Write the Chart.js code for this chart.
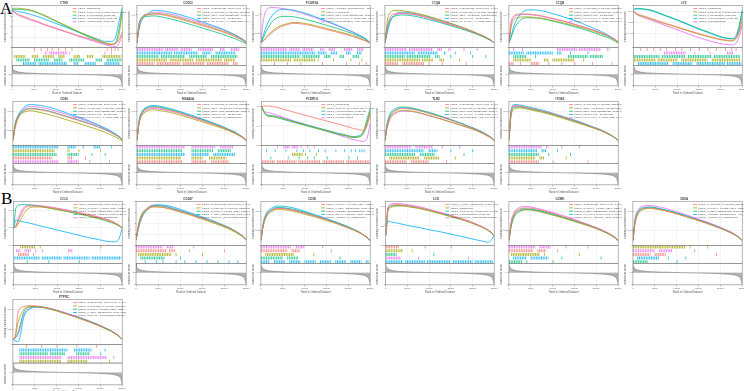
<!DOCTYPE html>
<html>
<head>
<meta charset="utf-8">
<script src="https://cdn.jsdelivr.net/npm/chart.js@4.4.0/dist/chart.umd.min.js"></script>
<style>
body{margin:0;background:#fff;width:744px;height:391px;overflow:hidden;position:relative}
.panel{position:absolute}
.tag{position:absolute;font-family:"Liberation Serif","DejaVu Serif",serif;font-size:17px;line-height:17px;color:#000}
</style>
</head>
<body>
<div class="tag" style="left:0;top:0">A</div>
<div class="tag" style="left:1px;top:190px">B</div>
<script>
//------------------------------- Data -------------------------------//
// ranks where the running enrichment score is read off the curves
const rankX = [0,500,1200,2500,4000,5500,7500,10000,12500,15000,17500,19500,21000,22500,23500,24300,25000];

// ranked list metric (same gene ranking in every panel)
const metricRank  = [0,100,300,700,1500,3000,6000,10000,15000,19000,22000,23500,24300,24700,24900,25000];
const metricValue = [1.15,0.85,0.6,0.42,0.28,0.17,0.08,0.02,-0.04,-0.1,-0.2,-0.32,-0.5,-0.8,-1.2,-1.55];

const titles = ['CTSS','CD163','FCGR3A','C1QA','C1QB','LYZ',
                'CD86','MS4A6A','FCER1G','TLR2','ITGB2',
                'CCL5','CD247','CD3E','LCK','GZMK','CD8A',
                'PTPRC'];

const pathways = [
  'KEGG_CHEMOKINE_SIGNALING_PATHWAY',
  'KEGG_CYTOKINE_CYTOKINE_RECEPTOR_INTERACTION',
  'KEGG_NATURAL_KILLER_CELL_MEDIATED_CYTOTOXICITY',
  'KEGG_T_CELL_RECEPTOR_SIGNALING_PATHWAY',
  'KEGG_ANTIGEN_PROCESSING_AND_PRESENTATION',
  'KEGG_CELL_ADHESION_MOLECULES_CAMS',
  'KEGG_RIBOSOME',
  'KEGG_OXIDATIVE_PHOSPHORYLATION',
  'KEGG_PARKINSONS_DISEASE',
  'KEGG_HUNTINGTONS_DISEASE',
  'KEGG_LYSOSOME',
  'KEGG_B_CELL_RECEPTOR_SIGNALING_PATHWAY',
  'KEGG_JAK_STAT_SIGNALING_PATHWAY',
  'KEGG_TOLL_LIKE_RECEPTOR_SIGNALING_PATHWAY',
  'KEGG_LEISHMANIA_INFECTION',
  'KEGG_GRAFT_VERSUS_HOST_DISEASE',
  'KEGG_ALLOGRAFT_REJECTION',
  'KEGG_ALZHEIMERS_DISEASE',
  'KEGG_SPLICEOSOME',
  'KEGG_PRIMARY_IMMUNODEFICIENCY',
  'KEGG_FC_GAMMA_R_MEDIATED_PHAGOCYTOSIS',
  'KEGG_SYSTEMIC_LUPUS_ERYTHEMATOSUS',
  'KEGG_COMPLEMENT_AND_COAGULATION_CASCADES',
  'KEGG_PROTEASOME'
];
const legendIdx = [
  [6,7,8,9,17],[0,1,13,14,20],[4,10,13,20,22],[0,1,5,14,20],[1,13,14,20,22],[6,7,8,9,18],
  [0,1,13,14,20],[1,5,13,14,16],[6,7,9,17,23],[0,1,13,20,22],[1,5,13,14,20],
  [0,2,3,15,16],[0,1,2,3,19],[2,3,4,15,16],[3,6,7,9,19],[0,2,3,12,15],[1,2,3,4,16],
  [0,1,2,3,19]
];

// running enrichment scores, sets in order red, olive, green, blue, magenta
const esCTSS = [
  [0.0,-0.02,-0.06,-0.10,-0.15,-0.19,-0.26,-0.33,-0.40,-0.47,-0.53,-0.58,-0.62,-0.64,-0.62,-0.55,-0.40],
  [0.04,0.05,0.05,0.04,0.02,-0.02,-0.09,-0.19,-0.29,-0.39,-0.48,-0.55,-0.60,-0.63,-0.62,-0.45,-0.02],
  [0.02,0.03,0.03,0.02,0.01,-0.03,-0.10,-0.20,-0.30,-0.40,-0.50,-0.57,-0.62,-0.64,-0.60,-0.35,0.0],
  [0.0,0.0,-0.01,-0.03,-0.06,-0.10,-0.16,-0.24,-0.32,-0.40,-0.48,-0.54,-0.58,-0.58,-0.50,-0.20,0.05],
  [0.0,-0.03,-0.07,-0.12,-0.17,-0.21,-0.27,-0.34,-0.41,-0.48,-0.55,-0.60,-0.64,-0.67,-0.68,-0.62,-0.45]];
const esCD163 = [
  [0,0.38,0.55,0.60,0.62,0.61,0.57,0.51,0.44,0.37,0.30,0.24,0.19,0.13,0.09,0.05,0.0],
  [0,0.40,0.56,0.61,0.63,0.62,0.59,0.53,0.46,0.39,0.32,0.26,0.21,0.15,0.10,0.06,0.01],
  [0,0.42,0.53,0.57,0.58,0.56,0.52,0.46,0.39,0.32,0.25,0.19,0.14,0.09,0.05,0.02,-0.02],
  [0,0.30,0.50,0.63,0.70,0.69,0.66,0.60,0.53,0.45,0.37,0.30,0.24,0.17,0.12,0.07,0.02],
  [0,0.35,0.55,0.62,0.66,0.65,0.62,0.56,0.49,0.42,0.35,0.29,0.23,0.17,0.12,0.08,0.03]];
const esFCGR3A = [
  [0,0.04,0.10,0.22,0.32,0.38,0.42,0.40,0.35,0.29,0.23,0.18,0.14,0.09,0.06,0.03,0],
  [0,0.05,0.12,0.25,0.35,0.40,0.44,0.42,0.37,0.31,0.25,0.20,0.16,0.11,0.07,0.04,0],
  [0,0.10,0.25,0.45,0.55,0.57,0.56,0.51,0.45,0.38,0.31,0.25,0.20,0.14,0.10,0.05,0],
  [0,0.15,0.35,0.58,0.70,0.72,0.70,0.64,0.56,0.47,0.38,0.30,0.24,0.17,0.12,0.07,0],
  [0,0.45,0.70,0.76,0.75,0.73,0.69,0.62,0.54,0.46,0.37,0.29,0.23,0.16,0.11,0.06,0]];
const esC1QA = [
  [0,0.35,0.55,0.63,0.64,0.63,0.60,0.54,0.47,0.40,0.33,0.26,0.21,0.15,0.10,0.06,0],
  [0,0.45,0.65,0.70,0.69,0.67,0.63,0.57,0.50,0.42,0.34,0.27,0.21,0.15,0.10,0.06,0],
  [0,0.30,0.50,0.58,0.60,0.59,0.56,0.50,0.44,0.37,0.30,0.24,0.19,0.13,0.09,0.05,0],
  [0,0.20,0.45,0.62,0.66,0.65,0.62,0.56,0.49,0.42,0.34,0.27,0.21,0.15,0.10,0.06,0],
  [0,0.25,0.48,0.60,0.63,0.62,0.59,0.53,0.46,0.39,0.32,0.25,0.20,0.14,0.09,0.05,0]];
const esC1QB = [
  [0,0.45,0.58,0.62,0.62,0.61,0.58,0.53,0.47,0.40,0.33,0.27,0.22,0.16,0.11,0.07,0.02],
  [0,0.35,0.50,0.55,0.56,0.55,0.53,0.48,0.43,0.37,0.31,0.25,0.20,0.15,0.10,0.06,0.01],
  [0,0.12,0.30,0.48,0.54,0.54,0.52,0.47,0.41,0.35,0.28,0.22,0.17,0.12,0.08,0.04,0],
  [0,0.15,0.38,0.60,0.70,0.71,0.69,0.63,0.56,0.48,0.39,0.31,0.25,0.18,0.12,0.07,0],
  [0,0.40,0.55,0.60,0.61,0.60,0.57,0.52,0.46,0.40,0.33,0.27,0.22,0.16,0.12,0.08,0.03]];
const esLYZ = [
  [0.0,-0.03,-0.06,-0.09,-0.13,-0.17,-0.22,-0.28,-0.34,-0.40,-0.45,-0.49,-0.51,-0.52,-0.48,-0.38,-0.18],
  [0.0,-0.04,-0.07,-0.10,-0.14,-0.18,-0.23,-0.29,-0.35,-0.41,-0.46,-0.50,-0.52,-0.53,-0.50,-0.35,-0.10],
  [0.03,0.05,0.05,0.04,0.02,-0.02,-0.08,-0.15,-0.23,-0.31,-0.38,-0.44,-0.47,-0.49,-0.47,-0.30,0.0],
  [0.02,0.04,0.04,0.03,0.01,-0.03,-0.09,-0.16,-0.24,-0.32,-0.39,-0.45,-0.48,-0.49,-0.45,-0.25,0.02],
  [0.0,-0.05,-0.08,-0.12,-0.16,-0.20,-0.26,-0.33,-0.40,-0.47,-0.53,-0.57,-0.59,-0.60,-0.58,-0.45,-0.25]];
const esCD86 = [
  [0,0.25,0.45,0.60,0.65,0.64,0.61,0.55,0.48,0.41,0.34,0.28,0.22,0.16,0.11,0.07,0.02],
  [0,0.30,0.48,0.58,0.61,0.59,0.55,0.49,0.42,0.35,0.28,0.22,0.17,0.11,0.07,0.03,-0.01],
  [0,0.32,0.50,0.62,0.66,0.65,0.62,0.56,0.49,0.42,0.35,0.28,0.23,0.16,0.11,0.07,0.01],
  [0,0.30,0.50,0.68,0.74,0.73,0.70,0.64,0.56,0.48,0.40,0.32,0.26,0.19,0.13,0.08,0.02],
  [0,0.35,0.52,0.65,0.70,0.69,0.66,0.60,0.53,0.46,0.38,0.31,0.25,0.18,0.13,0.08,0.02]];
const esMS4A6A = [
  [0,0.38,0.56,0.66,0.68,0.66,0.62,0.56,0.49,0.41,0.34,0.27,0.22,0.15,0.10,0.06,0],
  [0,0.35,0.52,0.61,0.63,0.61,0.58,0.52,0.45,0.38,0.31,0.25,0.20,0.14,0.09,0.05,0],
  [0,0.40,0.58,0.68,0.70,0.68,0.64,0.58,0.50,0.43,0.35,0.28,0.22,0.16,0.11,0.06,0],
  [0,0.42,0.60,0.70,0.72,0.70,0.66,0.59,0.52,0.44,0.36,0.29,0.23,0.17,0.11,0.06,0],
  [0,0.36,0.55,0.64,0.66,0.64,0.61,0.55,0.48,0.41,0.33,0.27,0.21,0.15,0.10,0.05,0]];
const esFCER1G = [
  [0.0,0.01,0.01,0.0,-0.03,-0.07,-0.12,-0.18,-0.24,-0.30,-0.36,-0.41,-0.45,-0.48,-0.49,-0.40,-0.15],
  [0.0,-0.11,-0.18,-0.20,-0.23,-0.27,-0.32,-0.38,-0.44,-0.50,-0.56,-0.60,-0.63,-0.62,-0.52,-0.30,-0.08],
  [0.0,-0.12,-0.19,-0.21,-0.24,-0.28,-0.33,-0.39,-0.45,-0.51,-0.57,-0.61,-0.64,-0.63,-0.55,-0.35,-0.10],
  [0.0,-0.10,-0.17,-0.19,-0.22,-0.26,-0.31,-0.37,-0.43,-0.49,-0.55,-0.59,-0.62,-0.60,-0.50,-0.25,-0.05],
  [0.0,-0.10,-0.12,-0.15,-0.19,-0.24,-0.30,-0.37,-0.44,-0.51,-0.58,-0.64,-0.68,-0.71,-0.72,-0.65,-0.35]];
const esTLR2 = [
  [0,0.30,0.50,0.62,0.66,0.65,0.62,0.56,0.49,0.42,0.34,0.27,0.22,0.15,0.10,0.06,0],
  [0,0.28,0.47,0.58,0.62,0.61,0.58,0.52,0.45,0.38,0.31,0.25,0.20,0.14,0.09,0.05,0],
  [0,0.35,0.55,0.66,0.69,0.68,0.64,0.58,0.51,0.43,0.35,0.28,0.22,0.16,0.11,0.06,0],
  [0,0.32,0.52,0.63,0.67,0.66,0.63,0.57,0.50,0.43,0.35,0.28,0.23,0.16,0.11,0.06,0],
  [0,0.25,0.44,0.56,0.60,0.60,0.57,0.51,0.45,0.38,0.31,0.25,0.20,0.14,0.09,0.05,0]];
const esITGB2 = [
  [0,0.60,0.72,0.71,0.68,0.65,0.61,0.55,0.48,0.41,0.33,0.26,0.21,0.15,0.10,0.05,0],
  [0,0.50,0.65,0.67,0.65,0.62,0.58,0.52,0.45,0.38,0.31,0.25,0.20,0.14,0.09,0.05,0],
  [0,0.55,0.68,0.69,0.67,0.64,0.60,0.54,0.47,0.40,0.32,0.26,0.21,0.15,0.10,0.05,0],
  [0,0.62,0.74,0.73,0.70,0.67,0.63,0.56,0.49,0.42,0.34,0.27,0.22,0.15,0.10,0.05,0],
  [0,0.58,0.70,0.70,0.67,0.64,0.60,0.54,0.47,0.40,0.33,0.26,0.21,0.15,0.10,0.05,0]];
const esCCL5 = [
  [0,0.03,0.20,0.44,0.50,0.50,0.48,0.44,0.39,0.34,0.29,0.24,0.20,0.15,0.10,0.06,0],
  [0,0.02,0.12,0.35,0.47,0.48,0.46,0.42,0.37,0.32,0.27,0.22,0.18,0.13,0.09,0.05,0],
  [0,0.45,0.52,0.53,0.52,0.50,0.47,0.42,0.37,0.32,0.26,0.21,0.17,0.12,0.08,0.04,0],
  [0,0.18,0.16,0.13,0.10,0.06,0.01,-0.05,-0.11,-0.17,-0.23,-0.27,-0.30,-0.32,-0.32,-0.25,0],
  [0,0.05,0.25,0.48,0.52,0.51,0.49,0.45,0.40,0.35,0.30,0.25,0.21,0.16,0.11,0.06,0]];
const esCD247 = [
  [0,0.20,0.40,0.55,0.60,0.60,0.57,0.52,0.46,0.40,0.33,0.27,0.22,0.16,0.11,0.06,0],
  [0,0.25,0.45,0.57,0.61,0.60,0.57,0.51,0.45,0.38,0.31,0.25,0.20,0.14,0.09,0.05,0],
  [0,0.22,0.42,0.56,0.62,0.62,0.59,0.53,0.47,0.40,0.33,0.27,0.22,0.16,0.11,0.06,0],
  [0,0.18,0.38,0.54,0.63,0.64,0.62,0.56,0.49,0.42,0.35,0.28,0.23,0.16,0.11,0.06,0],
  [0,0.24,0.44,0.58,0.64,0.63,0.60,0.54,0.47,0.40,0.33,0.27,0.22,0.16,0.11,0.06,0]];
const esCD3E = [
  [0,0.30,0.50,0.62,0.66,0.65,0.62,0.56,0.50,0.43,0.35,0.28,0.23,0.16,0.11,0.06,0],
  [0,0.28,0.48,0.60,0.64,0.63,0.60,0.54,0.48,0.41,0.34,0.27,0.22,0.16,0.11,0.06,0],
  [0,0.32,0.52,0.64,0.68,0.67,0.64,0.58,0.51,0.44,0.36,0.29,0.23,0.17,0.11,0.06,0],
  [0,0.35,0.55,0.67,0.71,0.70,0.67,0.60,0.53,0.45,0.37,0.30,0.24,0.17,0.11,0.06,0],
  [0,0.30,0.50,0.63,0.67,0.66,0.63,0.57,0.50,0.43,0.35,0.28,0.23,0.16,0.11,0.06,0]];
const esLCK = [
  [0,0.55,0.62,0.64,0.63,0.61,0.58,0.53,0.47,0.41,0.34,0.28,0.23,0.17,0.12,0.07,0],
  [0,0.50,0.58,0.61,0.61,0.59,0.56,0.51,0.45,0.39,0.33,0.27,0.22,0.16,0.11,0.06,0],
  [0,0.52,0.60,0.62,0.62,0.60,0.57,0.52,0.46,0.40,0.33,0.27,0.22,0.16,0.11,0.06,0],
  [0,0.30,0.28,0.26,0.23,0.20,0.17,0.12,0.08,0.03,-0.02,-0.06,-0.09,-0.12,-0.14,-0.10,0],
  [0,0.58,0.65,0.66,0.65,0.63,0.60,0.54,0.48,0.42,0.35,0.29,0.23,0.17,0.12,0.07,0]];
const esGZMK = [
  [0,0.35,0.55,0.65,0.67,0.66,0.62,0.56,0.49,0.42,0.34,0.27,0.22,0.16,0.11,0.06,0],
  [0,0.30,0.50,0.60,0.63,0.62,0.58,0.52,0.46,0.39,0.32,0.26,0.21,0.15,0.10,0.05,0],
  [0,0.33,0.53,0.63,0.65,0.64,0.60,0.54,0.47,0.40,0.33,0.27,0.21,0.15,0.10,0.05,0],
  [0,0.28,0.48,0.60,0.64,0.63,0.60,0.54,0.47,0.40,0.33,0.27,0.21,0.15,0.10,0.05,0],
  [0,0.38,0.58,0.68,0.70,0.68,0.64,0.58,0.51,0.43,0.35,0.28,0.23,0.16,0.11,0.06,0]];
const esCD8A = [
  [0,0.40,0.58,0.66,0.67,0.65,0.61,0.55,0.48,0.41,0.34,0.27,0.22,0.16,0.11,0.06,0],
  [0,0.35,0.55,0.64,0.66,0.64,0.61,0.55,0.48,0.41,0.33,0.27,0.21,0.15,0.10,0.05,0],
  [0,0.38,0.57,0.66,0.68,0.66,0.62,0.56,0.49,0.42,0.34,0.27,0.22,0.16,0.11,0.06,0],
  [0,0.42,0.60,0.68,0.69,0.67,0.63,0.57,0.50,0.42,0.35,0.28,0.22,0.16,0.11,0.06,0],
  [0,0.45,0.63,0.71,0.72,0.70,0.66,0.59,0.52,0.44,0.36,0.29,0.23,0.17,0.11,0.06,0]];
const esPTPRC = [
  [0,0.05,0.55,0.66,0.68,0.67,0.64,0.58,0.51,0.43,0.35,0.28,0.23,0.16,0.11,0.06,0],
  [0,0.05,0.35,0.60,0.66,0.66,0.63,0.57,0.50,0.43,0.35,0.28,0.22,0.16,0.11,0.06,0],
  [0,0.03,0.15,0.55,0.65,0.66,0.64,0.58,0.51,0.44,0.36,0.29,0.23,0.17,0.11,0.06,0],
  [0,-0.03,-0.05,0.45,0.62,0.65,0.63,0.58,0.51,0.44,0.36,0.29,0.23,0.17,0.11,0.06,0],
  [0,0.02,0.10,0.50,0.63,0.65,0.64,0.59,0.52,0.45,0.37,0.30,0.24,0.17,0.12,0.07,0]];

// gene set hits as [first rank, last rank] runs, same set order
const hitsCTSS = [
  [[5000,5200],[6500,6700],[8000,8200],[9000,9200],[10500,10700],[12000,12200],[13500,13700],[21500,21700],[22500,22700],[23300,23500],[24000,24200]],
  [[500,3000],[4500,6000],[7000,9500],[10500,12000],[14000,15500],[17000,18500],[20500,24800]],
  [[1000,4000],[5000,8500],[9500,11500],[13000,16500],[19000,20500],[21500,24800]],
  [[2500,5500],[6000,12500],[14000,15000],[16500,19000],[21000,24500]],
  [[7500,8000],[8500,12500],[13000,13200],[21000,21200],[22500,22700]]];
const hitsCD163 = [
  [[0,4000],[4500,10000],[10500,15500],[16000,21000],[22000,23000]],
  [[0,7000],[7500,13000],[13500,19500],[20000,22500]],
  [[0,5000],[5500,11000],[12000,16000],[17000,23000]],
  [[0,8000],[8500,14000],[15000,17000],[18000,22500]],
  [[0,6000],[6500,9500],[10000,12500],[14000,17500],[19000,20000],[21500,23500]]];
const hitsFCGR3A = [
  [[3000,3200],[6000,6200],[9000,9200],[14000,14200],[19500,19700],[22500,22700],[24000,24200]],
  [[0,7000],[7500,12500],[13000,13200],[16500,16700],[20500,20700],[23000,23200]],
  [[0,9000],[9500,13500],[14500,16000],[18000,19000],[21000,22500]],
  [[0,12500],[13000,15000],[16000,17500],[19500,20500],[22000,23000]],
  [[0,6000],[6500,9000],[9500,12000],[13500,14500],[15500,17000],[19000,21000],[22000,23500]]];
const hitsC1QA = [
  [[0,3000],[4000,9000],[10000,10200],[13000,13200],[18500,18700]],
  [[0,8000],[8500,11000],[12500,13500],[17000,17200]],
  [[0,4500],[5000,10500],[11500,12500],[15000,15200],[20000,20200],[23000,23200]],
  [[0,7000],[7500,12000],[13500,14000],[16000,16200],[19500,19700]],
  [[0,5000],[5500,11000],[12000,13000],[14500,15000],[18000,18200],[21000,21200]]];
const hitsC1QB = [
  [[0,1000],[2500,2700],[5000,7000],[9000,9200],[12000,12200],[15000,15200],[19000,19200],[23500,23700]],
  [[1000,5000],[8000,9000],[10000,15000],[17000,17200]],
  [[1000,4000],[6000,6200],[13500,18000],[18500,21500]],
  [[0,3500],[4000,10000],[11000,12000],[14000,14200],[18000,18200]],
  [[1000,1200],[3000,3200],[11000,15500],[16000,21000],[22500,23000]]];
const hitsLYZ = [
  [[1500,1700],[3000,3200],[4500,4700],[6000,6200],[7500,7700],[9500,9700],[11000,11200],[13000,13200],[15000,15200],[17000,17200],[19000,19200],[21000,21200],[22500,22700],[23500,23700]],
  [[0,5000],[5500,10000],[11000,17000],[18000,24500]],
  [[0,6000],[6500,12000],[12500,18000],[18500,24500]],
  [[1000,8000],[9000,13500],[14500,21000],[21500,24800]],
  [[7000,12000],[14000,14200],[17500,17700],[21500,23000]]];
const hitsCD86 = [
  [[0,9000],[12500,13500],[16500,16700]],
  [[0,9500],[12500,13000],[15000,15200],[20000,20200]],
  [[0,10000],[12500,15000],[18000,18200],[21000,21200]],
  [[0,10500],[12500,14500],[16000,16200],[18500,20000],[22500,22700]],
  [[0,10500],[12500,15000],[17500,17700],[22000,22200]]];
const hitsMS4A6A = [
  [[0,10500],[12500,16000],[17000,21000]],
  [[0,10000],[12500,15000],[16500,20500]],
  [[0,10500],[12500,17500],[18500,21500]],
  [[0,11000],[12500,16500],[17500,22500]],
  [[0,11000],[12500,18000],[19000,22000]]];
const hitsFCER1G = [
  [[0,3000],[3500,8000],[8500,13500],[14000,19000],[19500,24800]],
  [[7000,9500],[10000,10200],[12500,12700]],
  [[2000,2200],[6000,6200],[8500,8700],[10500,10700],[12000,12200],[15000,15200],[20000,20200],[22000,22200]],
  [[1000,1200],[3000,3200],[5500,5700],[8000,8200],[9500,9700],[11000,11200],[13000,13200],[14500,14700],[17000,17200],[19000,19200],[20500,20700],[21500,21700],[22500,22700],[23000,23200],[23500,23700]],
  [[3500,3700],[5000,6500],[7000,8500],[9000,9200],[10500,10700],[12000,12200]]];
const hitsTLR2 = [
  [[0,5000],[6000,10000],[14000,14200]],
  [[1000,8000],[9000,12500],[16000,16200]],
  [[0,7000],[8000,11500],[18000,18200]],
  [[0,9000],[10000,12000],[15000,15200],[20000,20200]],
  [[0,6000],[7000,11000],[13000,13200],[17000,17200]]];
const hitsITGB2 = [
  [[0,7000],[10000,10200],[18000,18200]],
  [[0,6000],[7000,8000],[13000,13200]],
  [[0,7000],[9000,9200],[14000,14200]],
  [[0,6500],[7500,8500],[11000,11200]],
  [[0,7500],[8500,9000],[12000,12200],[16000,16200]]];
const hitsCCL5 = [
  [[1000,3500],[4500,4700]],
  [[1500,5000],[6000,6200],[20000,20200]],
  [[3000,3200],[8000,8200],[15000,15200]],
  [[0,6000],[6500,11000],[11500,17500],[18000,24800]],
  [[500,1500],[2500,4000],[5000,5200],[6500,6700],[12500,13500]]];
const hitsCD247 = [
  [[0,7000],[7500,9000],[12000,12200],[20000,20200]],
  [[500,8000],[9000,9200],[15000,15200]],
  [[1000,6500],[10000,10200]],
  [[2000,2200],[4500,4700],[6000,6200],[9000,9200],[11000,11200],[13500,13700],[16000,16200],[18500,18700],[21000,21200],[23000,23200]],
  [[0,6000],[7000,8500],[13000,13200]]];
const hitsCD3E = [
  [[0,6000],[7000,9000],[16000,16200]],
  [[1000,7500],[12000,12200]],
  [[0,5000],[6000,8500],[18000,18200]],
  [[0,2000],[3000,5500],[6500,9000],[10000,12500],[13500,16000],[17000,19500],[20500,23000],[24000,24800]],
  [[0,7000],[8000,10000],[14000,14200]]];
const hitsLCK = [
  [[0,3000],[9000,9200],[15000,15200]],
  [[0,4000],[6000,6200]],
  [[0,2500],[11000,11200]],
  [[0,4000],[4500,9000],[9500,15000],[15500,20000],[20500,24800]],
  [[0,3500],[7500,7700],[19000,19200]]];
const hitsGZMK = [
  [[0,5500],[6500,8500],[11000,11200]],
  [[500,7000],[8000,8200],[16000,16200]],
  [[0,3000],[4000,4200],[10000,10200]],
  [[1000,4000],[5000,9000],[12000,12200],[21000,21200]],
  [[0,6000],[7000,9500],[13000,13200],[18000,18200]]];
const hitsCD8A = [
  [[0,4000],[5000,7500],[19000,19200]],
  [[0,12000],[13000,13200],[17000,17200]],
  [[0,3500],[10000,10200]],
  [[1000,6000],[8000,8200],[12000,12200]],
  [[0,5000],[6000,9000],[14000,14200]]];
const hitsPTPRC = [
  [[3000,3200],[6500,6700],[10000,10200],[14500,14700],[19000,19200]],
  [[1500,11000],[12500,17000],[22000,22200]],
  [[1500,8000],[8500,12000],[14500,17500],[20000,20200]],
  [[1500,12500],[14000,18000],[21000,21200]],
  [[1500,11000],[12500,21500],[23000,23200]]];

const esSets = [esCTSS,esCD163,esFCGR3A,esC1QA,esC1QB,esLYZ,esCD86,esMS4A6A,esFCER1G,esTLR2,esITGB2,
                esCCL5,esCD247,esCD3E,esLCK,esGZMK,esCD8A,esPTPRC];
const hitSets = [hitsCTSS,hitsCD163,hitsFCGR3A,hitsC1QA,hitsC1QB,hitsLYZ,hitsCD86,hitsMS4A6A,hitsFCER1G,hitsTLR2,hitsITGB2,
                 hitsCCL5,hitsCD247,hitsCD3E,hitsLCK,hitsGZMK,hitsCD8A,hitsPTPRC];

//------------------------------ Layout ------------------------------//
const palette = ['#F8766D','#A3A500','#00BF7D','#00B0F6','#E76BF3'];
const colLeft = [4,128,252,376,500,624];
const rowTop = [0,96,196,294];
const rowH = [95,98,98,100];
const panelPos = [[0,0],[0,1],[0,2],[0,3],[0,4],[0,5],
                  [1,0],[1,1],[1,2],[1,3],[1,4],
                  [2,0],[2,1],[2,2],[2,3],[2,4],[2,5],
                  [3,0]];
const yRange = [[-0.7,0.1],[-0.1,0.8],[-0.1,0.8],[-0.1,0.8],[-0.1,0.8],[-0.65,0.1],
                [-0.1,0.8],[-0.1,0.8],[-0.8,0.1],[-0.1,0.8],[-0.1,0.8],
                [-0.4,0.6],[-0.1,0.7],[-0.1,0.8],[-0.2,0.7],[-0.1,0.8],[-0.1,0.8],
                [-0.1,0.8]];
// barcode row (0 = top) of each set
const rowOrder = [[0,2,3,4,1],[4,3,2,1,0],[4,3,2,1,0],[4,3,2,1,0],[4,3,2,1,0],[0,3,2,4,1],
                  [3,1,2,0,4],[4,3,1,2,0],[4,2,3,1,0],[4,3,2,1,0],[4,3,2,1,0],
                  [2,0,4,3,1],[1,2,3,4,0],[1,2,3,4,0],[0,1,2,4,3],[1,2,4,3,0],[2,0,4,3,1],
                  [0,4,2,1,3]];

Chart.defaults.font.family = '"Liberation Sans", Arial, sans-serif';
Chart.defaults.color = '#555';

const tinyFont = {size: 2.4};
const gridStyle = {color: '#e6e6e6', lineWidth: 0.5, tickLength: 1.5, tickColor: '#777'};

function segPoints(segs, row){
	const pts = [];
	segs.forEach(s => { pts.push({x: s[0], y: row}, {x: s[1], y: row}, {x: s[1], y: null}); });
	return pts;
}

// frame round every sub plot, like the ggplot panels
const framePlugin = {
	id: 'frames',
	afterDraw(chart){
		const ctx = chart.ctx, a = chart.chartArea;
		ctx.save();
		ctx.strokeStyle = '#777';
		ctx.lineWidth = 0.5;
		['y','yh','yr'].forEach(k => {
			const s = chart.scales[k];
			ctx.strokeRect(a.left, s.top, a.right - a.left, s.bottom - s.top);
		});
		ctx.restore();
	}
};

function legendPlugin(labels){
	return {
		id: 'gseaLegend',
		afterDatasetsDraw(chart){
			const ctx = chart.ctx, a = chart.chartArea, s = chart.scales.y;
			const x0 = a.left + (a.right - a.left) * 0.55, y0 = s.top + 3;
			ctx.save();
			ctx.font = '2.5px "Liberation Sans"';
			ctx.textBaseline = 'middle';
			labels.forEach((t, i) => {
				const y = y0 + i * 3.3;
				ctx.strokeStyle = palette[i];
				ctx.lineWidth = 0.8;
				ctx.beginPath(); ctx.moveTo(x0, y); ctx.lineTo(x0 + 4, y); ctx.stroke();
				ctx.fillStyle = '#555';
				ctx.fillText(t, x0 + 5.5, y);
			});
			ctx.restore();
		}
	};
}

//-------------------------- Chart's creation ------------------------//
esSets.forEach((es, i) => {
	const [r, c] = panelPos[i];
	const div = document.createElement('div');
	div.className = 'panel';
	div.style.left = colLeft[c] + 'px';
	div.style.top = rowTop[r] + 'px';
	const cv = document.createElement('canvas');
	cv.width = 122; cv.height = rowH[r];
	div.appendChild(cv);
	document.body.appendChild(div);

	const datasets = [];
	es.forEach((vals, k) => {
		datasets.push({
			data: rankX.map((x, j) => ({x: x, y: vals[j]})),
			yAxisID: 'y', borderColor: palette[k], borderWidth: 0.8,
			pointRadius: 0, cubicInterpolationMode: 'monotone', fill: false
		});
	});
	hitSets[i].forEach((segs, k) => {
		datasets.push({
			data: segPoints(segs, rowOrder[i][k] + 1),
			yAxisID: 'yh', borderColor: palette[k] + 'd0', borderWidth: 3,
			borderDash: [1, 0.7], borderCapStyle: 'butt',
			pointRadius: 0, spanGaps: false, fill: false
		});
	});
	datasets.push({
		data: metricRank.map((x, j) => ({x: x, y: metricValue[j]})),
		yAxisID: 'yr', borderColor: '#7a7a7a', borderWidth: 0.6,
		backgroundColor: '#b3b3b3', pointRadius: 0, fill: 'origin'
	});

	const labels = legendIdx[i].map(n => pathways[n]);

	new Chart(cv, {
		type: 'line',
		data: {datasets: datasets},
		options: {
			responsive: false,
			animation: false,
			events: [],
			layout: {padding: {left: 0, right: 2, top: 0, bottom: 0}},
			plugins: {
				legend: {display: false},
				tooltip: {enabled: false},
				title: {display: true, text: titles[i], font: {size: 3}, padding: {top: 1, bottom: 1}, color: '#444'}
			},
			scales: {
				x: {
					type: 'linear', min: 0, max: 25000,
					ticks: {stepSize: 5000, font: tinyFont, padding: 0.5, maxRotation: 0, callback: v => v},
					grid: gridStyle,
					border: {display: false},
					title: {display: true, text: 'Rank in Ordered Dataset', font: {size: 2.7}, padding: {top: 0.5, bottom: 0}}
				},
				yr: {
					stack: 'gsea', stackWeight: 21, position: 'left',
					min: -1.6, max: 1.2,
					ticks: {stepSize: 1, font: tinyFont, padding: 0.5, callback: v => Number.isInteger(v) ? v : ''},
					grid: gridStyle,
					border: {display: false},
					title: {display: true, text: 'Ranked list metric', font: {size: 2.6}, padding: 0}
				},
				yh: {
					stack: 'gsea', stackWeight: 18, position: 'left',
					min: 0.5, max: 5.5, reverse: true,
					ticks: {display: false},
					grid: {display: false},
					border: {display: false}
				},
				y: {
					stack: 'gsea', stackWeight: 43, position: 'left',
					min: yRange[i][0], max: yRange[i][1],
					ticks: {stepSize: 0.2, font: tinyFont, padding: 0.5,
						callback: v => Math.abs(v / 0.2 - Math.round(v / 0.2)) < 1e-6 ? v.toFixed(1) : ''},
					grid: gridStyle,
					border: {display: false},
					title: {display: true, text: 'Running Enrichment Score', font: {size: 2.6}, padding: 0}
				}
			}
		},
		plugins: [legendPlugin(labels), framePlugin]
	});
});
</script>
</body>
</html>
